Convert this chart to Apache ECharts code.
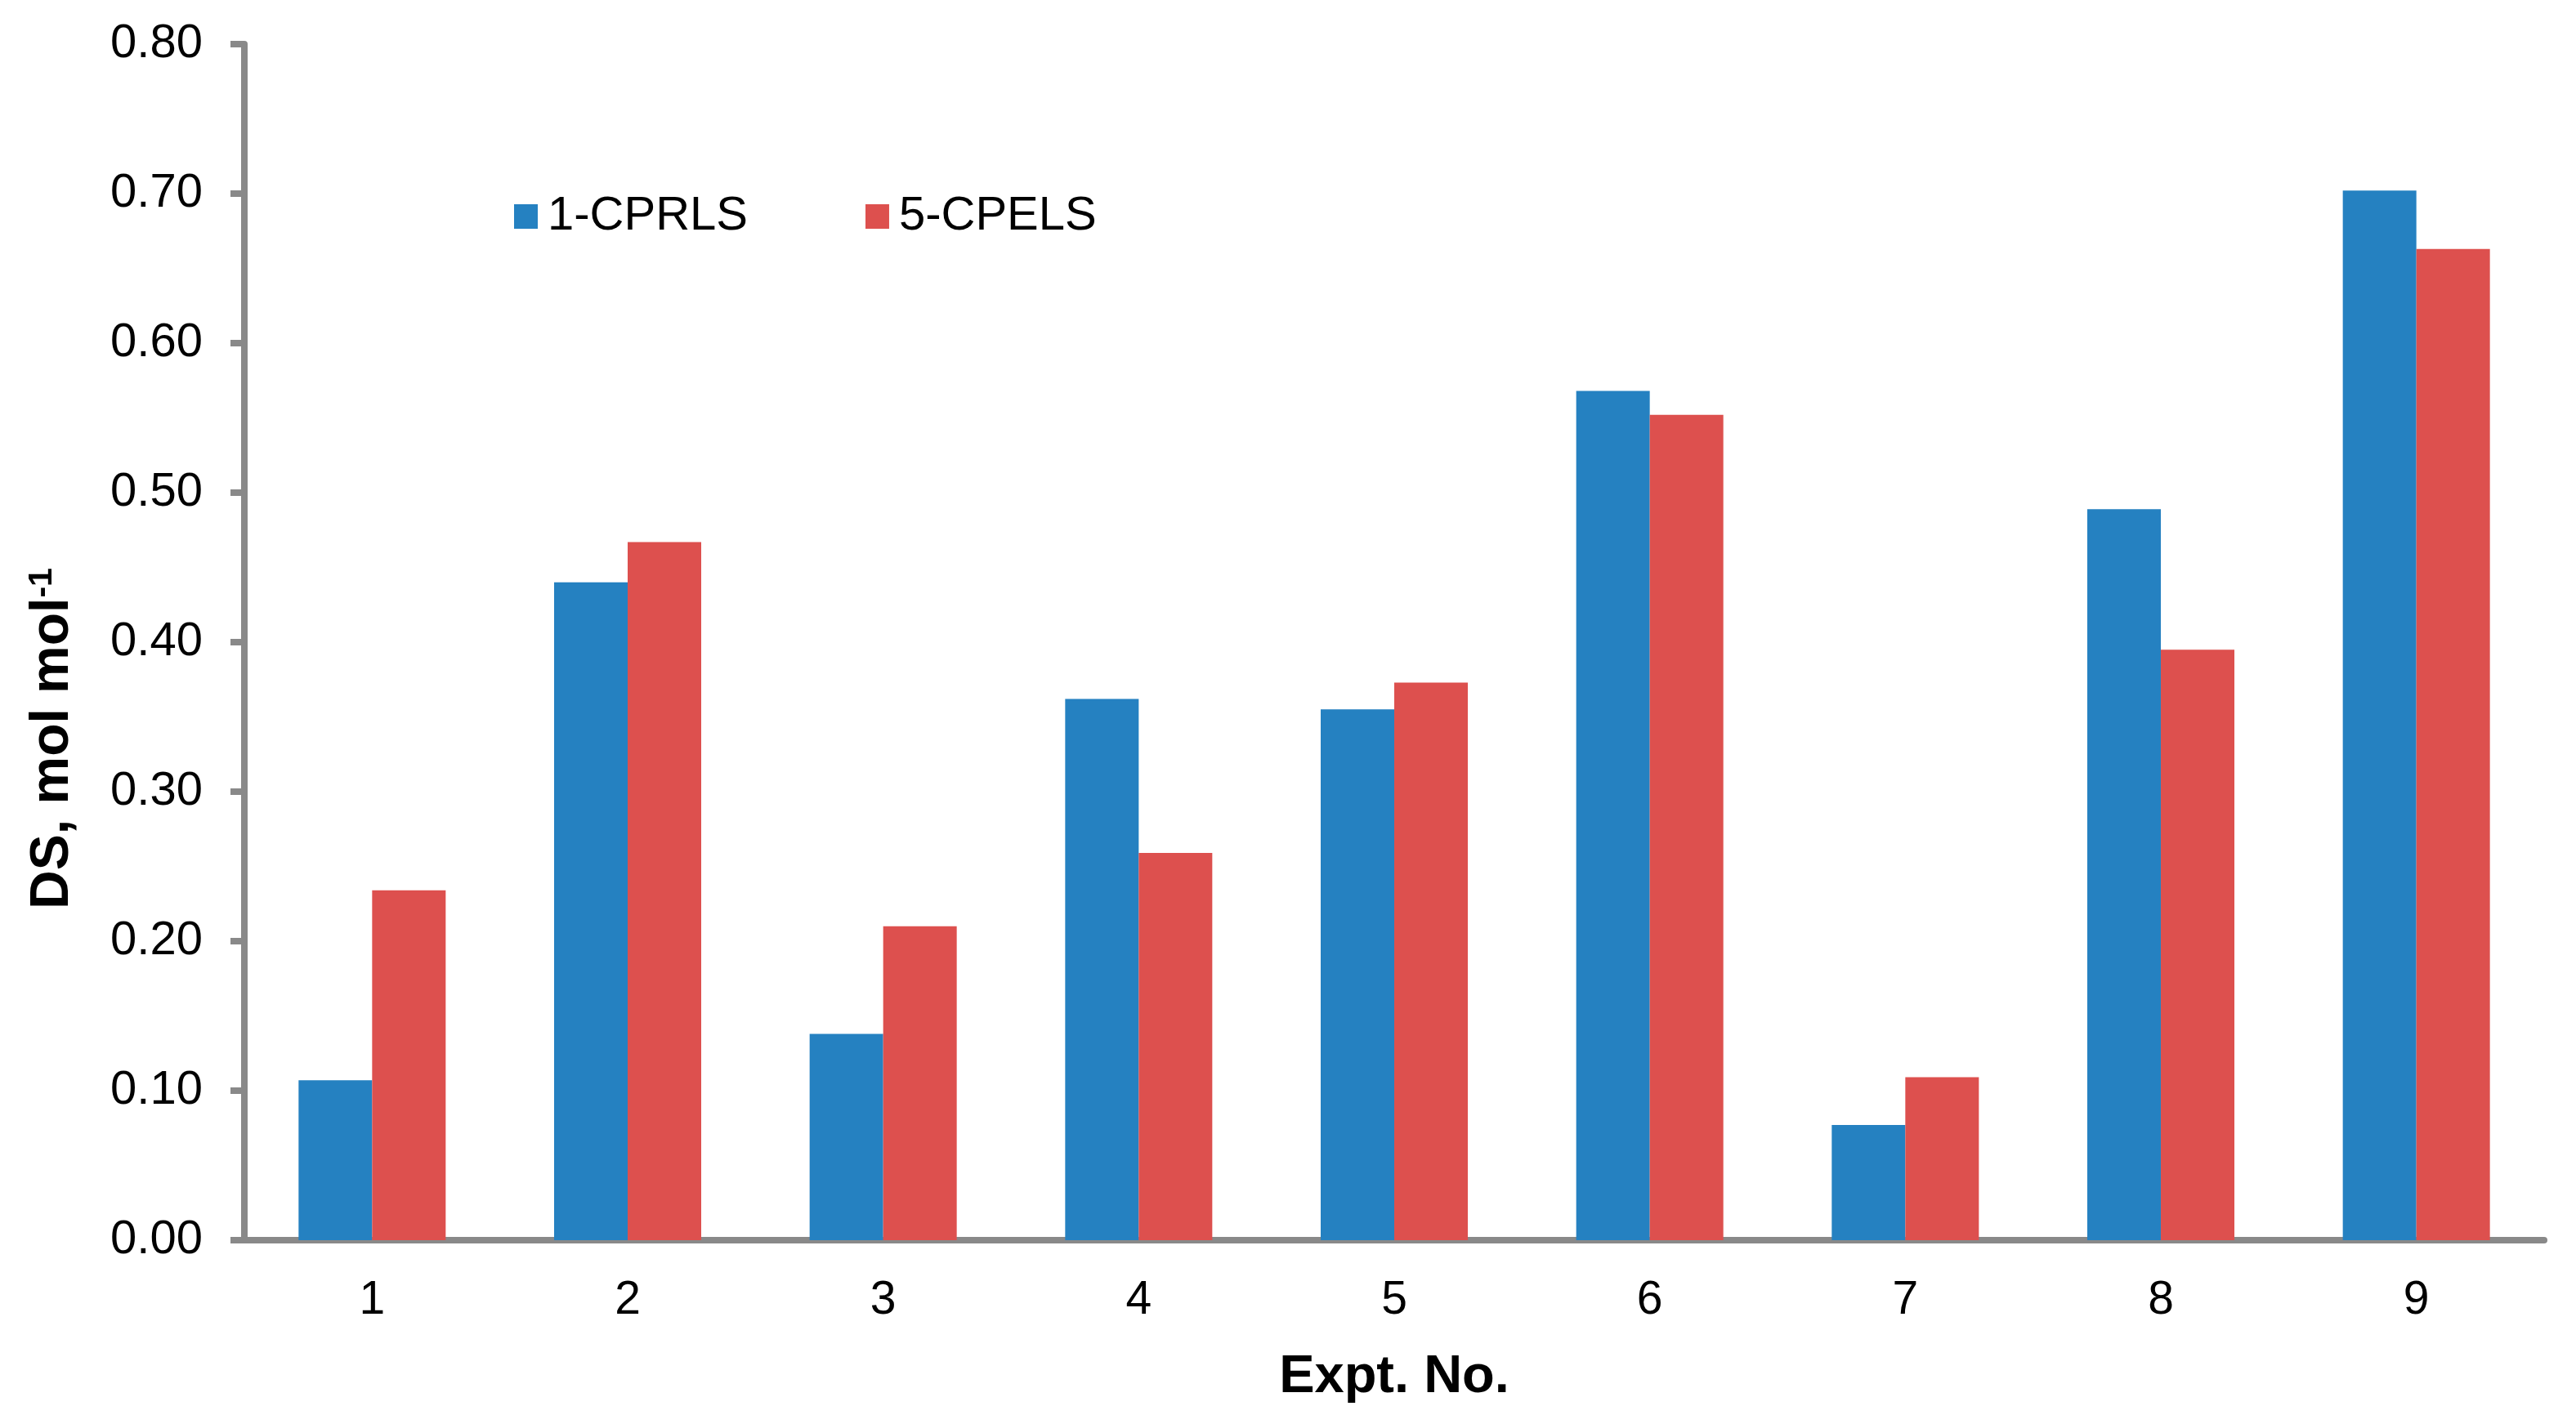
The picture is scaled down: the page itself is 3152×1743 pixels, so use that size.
<!DOCTYPE html>
<html>
<head>
<meta charset="utf-8">
<script src="https://cdn.jsdelivr.net/npm/echarts@6/dist/echarts.min.js"></script>
<style>
html,body{margin:0;padding:0;background:#fff;}
#chart{width:3152px;height:1743px;}
</style>
</head>
<body>
<div id="chart"></div>
<script>
const categories = ['1','2','3','4','5','6','7','8','9'];
const seriesNames = ['1-CPRLS','5-CPELS'];
const cprls = [0.107, 0.440, 0.138, 0.362, 0.355, 0.568, 0.077, 0.489, 0.702];
const cpels = [0.234, 0.467, 0.210, 0.259, 0.373, 0.552, 0.109, 0.395, 0.663];
const yTicks = [0, 0.1, 0.2, 0.3, 0.4, 0.5, 0.6, 0.7, 0.8];

const FONT = '"Liberation Sans", Arial, sans-serif';
const AXIS_COLOR = '#898989';
const chart = echarts.init(document.getElementById('chart'), null, {renderer:'canvas'});
chart.setOption({
  backgroundColor:'#ffffff',
  animation:false,
  textStyle:{fontFamily:FONT},
  grid:{left:299,right:39,top:54,bottom:225,containLabel:false},
  legend:{
    left:629, top:235, padding:0,
    itemWidth:29, itemHeight:30, itemGap:144,
    icon:'rect',
    textStyle:{fontFamily:FONT,fontSize:58,color:'#000',lineHeight:60,padding:[0,0,0,7]},
    data:seriesNames
  },
  xAxis:{
    type:'category',
    data:categories,
    name:'Expt. No.',
    nameLocation:'middle',
    nameGap:136,
    nameTextStyle:{fontFamily:FONT,fontSize:65,fontWeight:'bold',color:'#000'},
    axisLine:{show:true,lineStyle:{color:AXIS_COLOR,width:8}},
    axisTick:{show:false},
    axisLabel:{fontFamily:FONT,fontSize:57,color:'#000',margin:46},
    splitLine:{show:false}
  },
  yAxis:{
    type:'value',
    min:yTicks[0], max:yTicks[yTicks.length-1], interval:0.1,
    name:'{a|DS, mol mol}{s|-1}',
    nameLocation:'middle',
    nameRotate:90,
    nameGap:200,
    nameTextStyle:{
      fontFamily:FONT,fontSize:66,fontWeight:'bold',color:'#000',
      padding:[0,236,0,0],
      rich:{
        a:{fontFamily:FONT,fontSize:66,fontWeight:'bold',color:'#000'},
        s:{fontFamily:FONT,fontSize:41,fontWeight:'bold',color:'#000',padding:[0,0,27,0]}
      }
    },
    axisLine:{show:true,lineStyle:{color:AXIS_COLOR,width:8}},
    axisTick:{show:true,length:17,lineStyle:{color:AXIS_COLOR,width:8}},
    axisLabel:{fontFamily:FONT,fontSize:58,color:'#000',margin:51,
      formatter:v=>v.toFixed(2)},
    splitLine:{show:false}
  },
  series:[
    {name:seriesNames[0],type:'bar',data:cprls,barWidth:90,barGap:'0%',
     itemStyle:{color:'#2581c1'}},
    {name:seriesNames[1],type:'bar',data:cpels,barWidth:90,barGap:'0%',
     itemStyle:{color:'#dd504e'}}
  ]
});
</script>
</body>
</html>
